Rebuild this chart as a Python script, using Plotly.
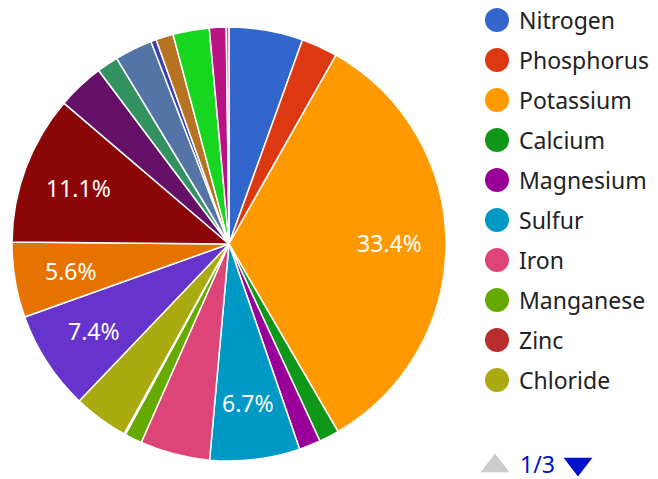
import math
import plotly.graph_objects as go

# ---- data ----
nutrients = ["Nitrogen", "Phosphorus", "Potassium", "Calcium", "Magnesium",
             "Sulfur", "Iron", "Manganese", "Zinc", "Chloride",
             "Copper", "Boron", "Molybdenum", "Nickel", "Cobalt",
             "Sodium", "Silicon", "Selenium", "Vanadium", "Aluminum", "Other"]
shares = [5.5, 2.7, 33.4, 1.5, 1.6,
          6.7, 5.2, 1.3, 0.1, 4.1,
          7.4, 5.6, 11.1, 3.5, 1.6,
          2.8, 0.4, 1.3, 2.7, 1.25, 0.2]
colors = ["#3366cc", "#dc3912", "#ff9900", "#109618", "#990099",
          "#0099c6", "#dd4477", "#66aa00", "#b82e2e", "#aaaa11",
          "#6633cc", "#e67300", "#8b0707", "#651067", "#329262",
          "#5574a6", "#3b3eac", "#b77322", "#16d620", "#b91383", "#f4359e"]
legend_page = "1/3"
items_per_page = 10

W, H = 658, 479
FONT = "Noto Sans, Open Sans, sans-serif"
LABEL_MIN_SHARE = 0.0555
LABEL_RADIUS_FRAC = 0.74

total = sum(shares)

fig = go.Figure()

cx, cy, r = 229, 244, 217
fig.add_trace(go.Pie(
    labels=nutrients, values=shares, sort=False, direction="clockwise",
    rotation=0,
    marker=dict(colors=colors, line=dict(color="white", width=1.5)),
    textinfo="none",
    domain=dict(x=[(cx - r) / W, (cx + r) / W], y=[1 - (cy + r) / H, 1 - (cy - r) / H]),
    showlegend=False, hoverinfo="label+percent",
))

annotations = []
# slice percentage labels, placed at each slice's mid angle
cum = 0.0
for v in shares:
    frac = v / total
    mid = (cum + frac / 2) * 2 * math.pi
    cum += frac
    if frac >= LABEL_MIN_SHARE:
        rr = r * LABEL_RADIUS_FRAC
        annotations.append(dict(
            x=cx + rr * math.sin(mid), y=cy - rr * math.cos(mid),
            xref="x", yref="y", text=f"{frac * 100:.1f}%", showarrow=False,
            xanchor="center", yanchor="middle",
            font=dict(size=23, family=FONT, color="white")))

# ---- custom legend (first page) ----
page_names = nutrients[:items_per_page]
page_colors = colors[:items_per_page]
ys = [20 + 40 * i for i in range(len(page_names))]
fig.add_trace(go.Scatter(
    x=[497] * len(page_names), y=ys, mode="markers",
    marker=dict(size=24, color=page_colors, symbol="circle", line=dict(width=0)),
    xaxis="x", yaxis="y", showlegend=False, hoverinfo="skip",
))
for name, y in zip(page_names, ys):
    annotations.append(dict(x=517, y=y, xref="x", yref="y", text=name,
                            showarrow=False, xanchor="left", yanchor="middle",
                            font=dict(size=23, family=FONT, color="#222222")))
# pager
fig.add_trace(go.Scatter(
    x=[495, 578], y=[466, 464], mode="markers",
    marker=dict(size=25, color=["#cccccc", "#0011cc"],
                symbol=["triangle-up", "triangle-down"], line=dict(width=0)),
    xaxis="x", yaxis="y", showlegend=False, hoverinfo="skip",
))
annotations.append(dict(x=537, y=464, xref="x", yref="y", text=legend_page,
                        showarrow=False, xanchor="center", yanchor="middle",
                        font=dict(size=23, family=FONT, color="#0011cc")))

fig.update_layout(
    width=W, height=H, margin=dict(l=0, r=0, t=0, b=0),
    paper_bgcolor="white", plot_bgcolor="rgba(0,0,0,0)",
    xaxis=dict(range=[0, W], domain=[0, 1], visible=False, fixedrange=True),
    yaxis=dict(range=[H, 0], domain=[0, 1], visible=False, fixedrange=True),
    annotations=annotations, showlegend=False,
    font=dict(family=FONT),
)

fig.write_html("out.html", config={"displayModeBar": False},
               post_script="document.body.style.margin='0';document.body.style.overflow='hidden';")
